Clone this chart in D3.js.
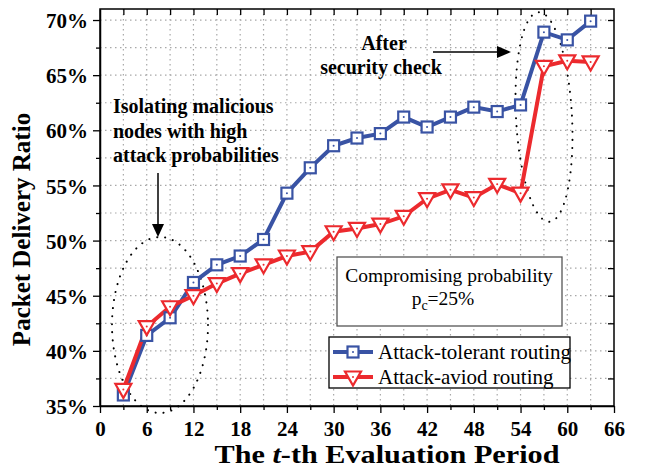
<!DOCTYPE html>
<html>
<head>
<meta charset="utf-8">
<script src="https://cdn.jsdelivr.net/npm/d3@7"></script>
<style>
  html, body { margin: 0; padding: 0; background: #fff; }
  svg { display: block; font-family: "Liberation Serif", "Times New Roman", serif; }
</style>
</head>
<body>
<svg id="chart" width="647" height="469"></svg>
<script>
// Evaluation periods (x) and packet delivery ratio (%) for each routing scheme
const periods = [3, 6, 9, 12, 15, 18, 21, 24, 27, 30, 33, 36, 39, 42, 45, 48, 51, 54, 57, 60, 63];
const tolerantPDR = [36.0, 41.4, 43.0, 46.2, 47.8, 48.6, 50.1, 54.3, 56.6, 58.6, 59.3, 59.7, 61.2, 60.3, 61.2, 62.1, 61.7, 62.3, 68.9, 68.2, 69.9];
const avoidPDR    = [36.5, 42.2, 44.0, 45.0, 46.1, 47.0, 47.8, 48.6, 49.0, 50.8, 51.1, 51.5, 52.2, 53.8, 54.6, 53.9, 55.1, 54.3, 65.8, 66.3, 66.2];
const seriesNames = ["Attack-tolerant routing", "Attack-aviod routing"];
const xTicks = [0, 6, 12, 18, 24, 30, 36, 42, 48, 54, 60, 66];
const yTicks = [35, 40, 45, 50, 55, 60, 65, 70];

const blue = "#3953a4", red = "#ec2a2e";
const svg = d3.select("#chart");
const L = 100, R = 614, T = 9, B = 406;
const x = d3.scaleLinear().domain([0, 66]).range([L, R]);
const y = d3.scaleLinear().domain([35, 71]).range([B, T]);

// dotted grid
const grid = svg.append("g").attr("stroke", "#a8a8a8").attr("stroke-width", 1.2)
  .attr("stroke-dasharray", "1.5,3.5");
grid.selectAll(".gx").data(d3.range(3, 66, 3)).join("line")
  .attr("x1", d => x(d)).attr("x2", d => x(d)).attr("y1", T).attr("y2", B);
grid.selectAll(".gy").data(d3.range(37.5, 71, 2.5)).join("line")
  .attr("x1", L).attr("x2", R).attr("y1", d => y(d)).attr("y2", d => y(d));

// axes: bottom/left with outward ticks, mirrored top/right with inward ticks
const bx = svg.append("g").attr("transform", `translate(0,${B})`)
  .call(d3.axisBottom(x).tickValues(xTicks).tickSize(7).tickSizeOuter(0).tickFormat(d3.format("d")));
svg.append("g").attr("transform", `translate(0,${B})`)
  .call(d3.axisBottom(x).tickValues(d3.range(3, 66, 6)).tickSize(4).tickFormat(""))
  .select(".domain").remove();
const ly = svg.append("g").attr("transform", `translate(${L},0)`)
  .call(d3.axisLeft(y).tickValues(yTicks).tickSize(7).tickSizeOuter(0).tickFormat(d => d + "%"));
svg.append("g").attr("transform", `translate(${L},0)`)
  .call(d3.axisLeft(y).tickValues(d3.range(37.5, 71, 5)).tickSize(4).tickFormat(""))
  .select(".domain").remove();
svg.append("g").attr("transform", `translate(0,${T})`)
  .call(d3.axisBottom(x).tickValues(d3.range(3, 66, 3)).tickSize(6).tickFormat(""))
  .select(".domain").remove();
svg.append("g").attr("transform", `translate(${R},0)`)
  .call(d3.axisLeft(y).tickValues(d3.range(37.5, 71, 2.5)).tickSize(6).tickFormat(""))
  .select(".domain").remove();
svg.append("rect").attr("x", L).attr("y", T).attr("width", R - L).attr("height", B - T)
  .attr("fill", "none").attr("stroke", "#000").attr("stroke-width", 1.5);
svg.selectAll(".tick line").attr("stroke", "#000").attr("stroke-width", 1.3);
svg.selectAll(".domain").attr("stroke", "#000").attr("stroke-width", 1.5);

bx.selectAll(".tick text").attr("font-size", 21).attr("font-weight", "bold")
  .attr("font-family", "Liberation Serif").attr("fill", "#000").attr("dy", "0.95em");
ly.selectAll(".tick text").attr("font-size", 21).attr("font-weight", "bold")
  .attr("font-family", "Liberation Serif").attr("fill", "#000").attr("dx", "-0.1em").attr("dy", "0.36em");

// axis titles
const xt = svg.append("text").attr("x", 387).attr("y", 463).attr("text-anchor", "middle")
  .attr("font-size", 26).attr("font-weight", "bold")
  .attr("textLength", 345).attr("lengthAdjust", "spacingAndGlyphs");
xt.append("tspan").text("The ");
xt.append("tspan").attr("font-style", "italic").text("t");
xt.append("tspan").text("-th Evaluation Period");
svg.append("text").attr("transform", `translate(30,${(T + B) / 2 + 22}) rotate(-90)`)
  .attr("text-anchor", "middle").attr("font-size", 25).attr("font-weight", "bold")
  .text("Packet Delivery Ratio");

// annotation ellipses and arrows
const ann = svg.append("g").attr("fill", "none").attr("stroke", "#000");
ann.append("ellipse").attr("cx", 160).attr("cy", 325).attr("rx", 48).attr("ry", 88)
  .attr("stroke-width", 2).attr("stroke-dasharray", "0.1,8").attr("stroke-linecap", "round");
ann.append("ellipse").attr("transform", "translate(544,117) rotate(-3)").attr("rx", 28).attr("ry", 105)
  .attr("stroke-width", 2).attr("stroke-dasharray", "0.1,8").attr("stroke-linecap", "round");
ann.append("line").attr("x1", 158).attr("y1", 173).attr("x2", 158).attr("y2", 225).attr("stroke-width", 1.5);
svg.append("path").attr("d", "M152,224 L164,224 L158,237 Z").attr("fill", "#000");
ann.append("line").attr("x1", 433).attr("y1", 52).attr("x2", 498).attr("y2", 52).attr("stroke-width", 1.5);
svg.append("path").attr("d", "M497,46 L497,58 L511,52 Z").attr("fill", "#000");

const note = svg.append("g").attr("font-size", 20).attr("font-weight", "bold");
["Isolating malicious", "nodes with high", "attack probabilities"].forEach((s, i) =>
  note.append("text").attr("x", 113).attr("y", 113 + i * 24.5).text(s));
note.append("text").attr("x", 384).attr("y", 50).attr("text-anchor", "middle").text("After");
note.append("text").attr("x", 381).attr("y", 74).attr("text-anchor", "middle").text("security check");

// series
const rows = periods.map((p, i) => ({ p, a: tolerantPDR[i], b: avoidPDR[i] }));
const line = key => d3.line().x(d => x(d.p)).y(d => y(d[key]));
svg.append("path").datum(rows).attr("d", line("a")).attr("fill", "none")
  .attr("stroke", blue).attr("stroke-width", 4);
svg.append("path").datum(rows).attr("d", line("b")).attr("fill", "none")
  .attr("stroke", red).attr("stroke-width", 4);

function square(g, cx, cy) {
  g.append("rect").attr("x", cx - 5.5).attr("y", cy - 5.5).attr("width", 11).attr("height", 11)
    .attr("fill", "#fff").attr("stroke", blue).attr("stroke-width", 2.2);
  g.append("circle").attr("cx", cx).attr("cy", cy).attr("r", 1).attr("fill", blue);
}
function triangle(g, cx, cy) {
  g.append("path").attr("d", `M${cx - 8},${cy - 5.5} L${cx + 8},${cy - 5.5} L${cx},${cy + 8.5} Z`)
    .attr("fill", "#fff").attr("stroke", red).attr("stroke-width", 2.2).attr("stroke-linejoin", "miter");
  g.append("circle").attr("cx", cx).attr("cy", cy).attr("r", 1).attr("fill", red);
}
const mk = svg.append("g");
rows.forEach(d => square(mk, x(d.p), y(d.a)));
rows.forEach(d => triangle(mk, x(d.p), y(d.b)));

// parameter box
svg.append("rect").attr("x", 337).attr("y", 257).attr("width", 225).attr("height", 69)
  .attr("fill", "#fff").attr("stroke", "#555").attr("stroke-width", 1.3);
svg.append("text").attr("x", 449).attr("y", 282).attr("text-anchor", "middle").attr("font-size", 19.5)
  .text("Compromising probability");
const pc = svg.append("text").attr("x", 443).attr("y", 305).attr("text-anchor", "middle").attr("font-size", 19.5);
pc.append("tspan").text("p");
pc.append("tspan").attr("font-size", 14).attr("dy", 5).text("c");
pc.append("tspan").attr("dy", -5).text("=25%");

// legend
const lg = svg.append("g");
lg.append("rect").attr("x", 329).attr("y", 337).attr("width", 241).attr("height", 51)
  .attr("fill", "#fff").attr("stroke", "#000").attr("stroke-width", 1.3);
[[blue, square], [red, triangle]].forEach(([c, f], i) => {
  const yy = 352 + i * 25;
  lg.append("line").attr("x1", 333).attr("x2", 373).attr("y1", yy).attr("y2", yy)
    .attr("stroke", c).attr("stroke-width", 4);
  f(lg, 353, yy);
  lg.append("text").attr("x", 378).attr("y", yy + 7).attr("font-size", 21).text(seriesNames[i]);
});
</script>
</body>
</html>
